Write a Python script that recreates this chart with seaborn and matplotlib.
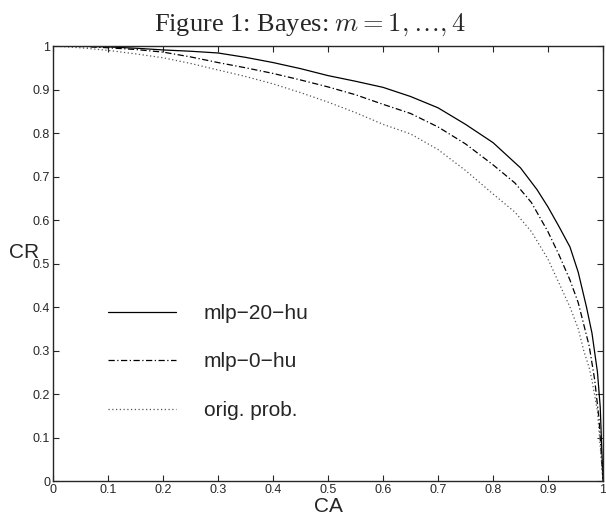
import pandas as pd
import matplotlib.pyplot as plt
import seaborn as sns

# data (CA on x, CR on y)
ca_20hu = [0, .05, .1, .15, .2, .25, .3, .35, .4, .45, .5, .55, .6, .65, .7, .75, .8, .85, .88, .9, .92, .94, .955, .97, .98, .99, .995, 1.0]
cr_20hu = [1, .9995, .998, .995, .991, .988, .984, .974, .962, .948, .932, .919, .905, .884, .858, .82, .778, .72, .67, .63, .585, .538, .48, .40, .34, .25, .17, 0.0]

ca_0hu = [0, .05, .1, .15, .2, .25, .3, .35, .4, .45, .5, .55, .6, .65, .7, .75, .8, .84, .87, .9, .92, .94, .955, .965, .975, .985, .993, 1.0]
cr_0hu = [1, .999, .996, .992, .986, .975, .962, .95, .937, .922, .906, .888, .866, .845, .814, .775, .727, .685, .64, .573, .52, .462, .41, .36, .31, .232, .14, 0.0]

ca_orig = [0, .05, .1, .15, .2, .25, .3, .35, .4, .45, .5, .55, .6, .65, .7, .75, .8, .84, .87, .9, .92, .94, .955, .965, .975, .98, .99, 1.0]
cr_orig = [1, .996, .99, .982, .973, .96, .945, .93, .913, .893, .871, .847, .82, .798, .762, .714, .66, .618, .573, .51, .455, .40, .35, .30, .26, .232, .16, 0.0]

labels = ['mlp\u221220\u2212hu', 'mlp\u22120\u2212hu', 'orig. prob.']
x_ticks = [0, 0.1, 0.2, 0.3, 0.4, 0.5, 0.6, 0.7, 0.8, 0.9, 1]
y_ticks = [0, 0.1, 0.2, 0.3, 0.4, 0.5, 0.6, 0.7, 0.8, 0.9, 1]

sns.set_style('ticks')
plt.rcParams['font.family'] = ['Liberation Sans', 'DejaVu Sans']
plt.rcParams['mathtext.fontset'] = 'cm'
plt.rcParams['xtick.direction'] = 'in'
plt.rcParams['ytick.direction'] = 'in'

fig = plt.figure(figsize=(6.06, 5.2), dpi=100)
ax = fig.add_axes([0.0875, 0.075, 0.9075, 0.8365])

series = [
    (ca_20hu, cr_20hu, '-', 0.9, 'black'),
    (ca_0hu, cr_0hu, (0, (5, 2, 1, 2)), 0.9, 'black'),
    (ca_orig, cr_orig, (0, (1, 2)), 0.9, '#555555'),
]
for (xs, ys, ls, lw, col), lab in zip(series, labels):
    df = pd.DataFrame({'CA': xs, 'CR': ys})
    sns.lineplot(data=df, x='CA', y='CR', ax=ax, estimator=None, sort=False,
                 color=col, linewidth=lw, linestyle=ls, label=lab)

ax.set_xlim(0, 1)
ax.set_ylim(0, 1)
ax.set_xticks(x_ticks)
ax.set_yticks(y_ticks)
ax.set_xticklabels([f'{t:g}' for t in x_ticks], fontsize=9)
ax.set_yticklabels([f'{t:g}' for t in y_ticks], fontsize=9)
ax.tick_params(top=True, right=True, length=4, width=0.8, pad=2)
for s in ax.spines.values():
    s.set_linewidth(1.0)

ax.set_xlabel('CA', fontsize=15, labelpad=1)
ax.set_ylabel('CR', fontsize=15, rotation=0, va='center')
ax.yaxis.set_label_coords(-0.053, 0.526)

ax.legend(frameon=False, loc='center left', bbox_to_anchor=(0.065, 0.2736),
          fontsize=15, handlelength=3.27, handletextpad=1.35, labelspacing=1.42)

fig.text(0.511, 1 - 31 / 520, r'Figure 1: Bayes: $m = 1,\ldots,4$', ha='center', va='baseline',
         fontsize=19, family='Liberation Serif')

fig.savefig('out.png', dpi=100)
